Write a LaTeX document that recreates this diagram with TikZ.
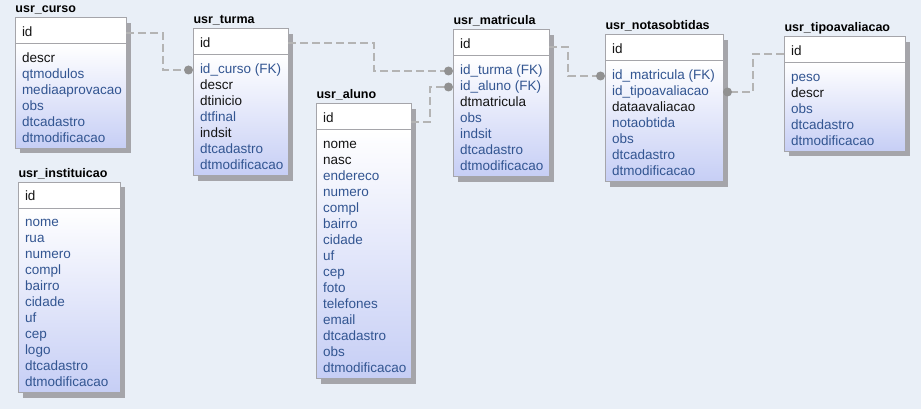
\documentclass[tikz,border=0pt]{standalone}
\usepackage{fontspec}
\setmainfont{Liberation Sans}
\definecolor{bgc}{RGB}{233,239,247}
\definecolor{bordc}{RGB}{165,165,170}
\definecolor{shadc}{RGB}{165,165,170}
\definecolor{bodyc}{RGB}{198,206,245}
\definecolor{fcb}{RGB}{20,20,20}
\definecolor{fcu}{RGB}{50,85,145}
\definecolor{linec}{RGB}{180,180,180}
\definecolor{dotc}{RGB}{145,145,145}
\newcommand{\fieldfont}{\fontsize{13.5}{16}\selectfont}
\newcommand{\ttlfont}{\fontsize{12.5}{15}\selectfont\bfseries}
\tikzset{
  field/.style={font=\fieldfont, inner sep=0pt, outer sep=0pt, text height=10pt, text depth=3pt, anchor=base west},
  ttl/.style={font=\ttlfont, inner sep=0pt, outer sep=0pt, anchor=base west},
  hbox/.style={draw=bordc, line width=1pt, fill=white, inner sep=0pt, outer sep=0pt, anchor=north west},
  bbox/.style={draw=bordc, line width=1pt, top color=white, bottom color=bodyc, inner sep=0pt, outer sep=0pt, anchor=north west},
  fk/.style={draw=linec, line width=2pt, dash pattern=on 8pt off 4pt},
  fkdot/.style={fill=dotc},
}
\newcommand{\ertable}[7]{%
  \pgfmathsetmacro{\ertb}{#4+50.5+16*(#6-1)}%
  \pgfmathsetmacro{\erbh}{24.5+16*(#6-1)}%
  \fill[shadc] (#3+5,#4+5) rectangle (#3+#5+5,\ertb+5);
  \node[bbox, minimum width=#5pt, minimum height=\erbh pt] (#1) at (#3,#4+26) {};
  \node[hbox, minimum width=#5pt, minimum height=26pt] (#1-h) at (#3,#4) {};
  \node[ttl] (#1-t) at (#3+0.5,#4-5) {#2};
  \node[field, text=fcb] (#1-id) at (#3+7,#4+18.5) {id};
  \foreach \ercol/\ertxt [count=\eri] in {#7} {
    \node[field, text=fc\ercol] (#1-\eri) at (#3+7,#4+44.5+16*\eri-16) {\ertxt};
  }%
}
\begin{document}
\begin{tikzpicture}[x=1pt,y=-1pt]
\useasboundingbox (0,0) rectangle (921,409);
\fill[bgc] (0,0) rectangle (921,409);

\ertable{curso}{usr\_curso}{15}{18}{111}{6}{b/descr, u/qtmodulos, u/mediaaprovacao, u/obs, u/dtcadastro, u/dtmodificacao}
\ertable{instituicao}{usr\_instituicao}{18}{182}{102}{11}{u/nome, u/rua, u/numero, u/compl, u/bairro, u/cidade, u/uf, u/cep, u/logo, u/dtcadastro, u/dtmodificacao}
\ertable{turma}{usr\_turma}{193}{29}{95}{7}{u/id\_curso (FK), b/descr, b/dtinicio, u/dtfinal, b/indsit, u/dtcadastro, u/dtmodificacao}
\ertable{aluno}{usr\_aluno}{316}{104}{95}{15}{b/nome, b/nasc, u/endereco, u/numero, u/compl, u/bairro, u/cidade, u/uf, u/cep, u/foto, u/telefones, u/email, u/dtcadastro, u/obs, u/dtmodificacao}
\ertable{matricula}{usr\_matricula}{453}{30}{96}{7}{u/id\_turma (FK), u/id\_aluno (FK), b/dtmatricula, u/obs, u/indsit, u/dtcadastro, u/dtmodificacao}
\ertable{notas}{usr\_notasobtidas}{605}{35}{118}{7}{u/id\_matricula (FK), u/id\_tipoavaliacao, b/dataavaliacao, u/notaobtida, u/obs, u/dtcadastro, u/dtmodificacao}
\ertable{tipo}{usr\_tipoavaliacao}{784}{37}{121}{5}{u/peso, b/descr, u/obs, u/dtcadastro, u/dtmodificacao}

% connector end points (dots)
\path (turma-1.west -| turma.west) ++(-4.5,0) coordinate (d1);
\path (matricula-1.west -| matricula.west) ++(-4.5,0) coordinate (d2);
\path (matricula-2.west -| matricula.west) ++(-4.5,0) coordinate (d3);
\path (notas-1.west -| notas.west) ++(-4.5,0) coordinate (d4);
\path (notas-2.west -| notas.east) ++(4.5,0) coordinate (d5);

\draw[fk] ([yshift=-2pt]curso-h.east) -- ++(37,0) |- (d1);
\draw[fk] ([yshift=-1pt]turma-h.east) -- ++(86,0) |- (d2);
\draw[fk] ([yshift=-5pt]aluno-h.east) -- ++(19,0) |- (d3);
\draw[fk] ([yshift=-4pt]matricula-h.east) -- ++(19,0) |- (d4);
\draw[fk] ([yshift=-4pt]tipo-h.west) -- ++(-31,0) |- (d5);

\foreach \d in {d1,d2,d3,d4,d5} \fill[fkdot] (\d) circle (4.5pt);
\end{tikzpicture}
\end{document}
